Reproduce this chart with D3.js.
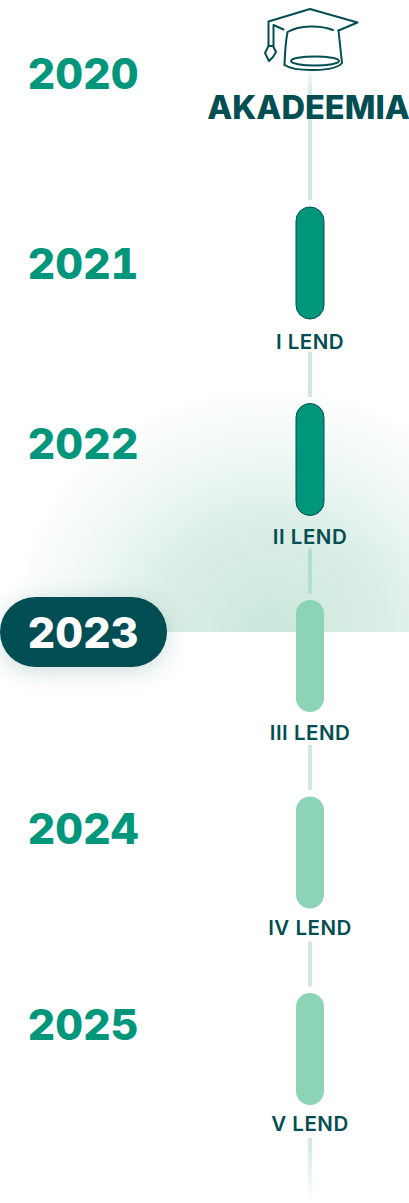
<!DOCTYPE html>
<html>
<head>
<meta charset="utf-8">
<script src="https://cdnjs.cloudflare.com/ajax/libs/d3/7.8.5/d3.min.js"></script>
<style>
  html, body { margin: 0; padding: 0; background: #fff; }
  svg { display: block; }
  .year { font-family: "Inter"; font-weight: 800; font-size: 43px; fill: #00967c; text-anchor: middle; font-feature-settings: "tnum"; }
  .lend { font-family: "Inter"; font-weight: 600; font-size: 20.5px; letter-spacing: 0.5px; fill: #034e52; text-anchor: middle; }
  .title { font-family: "Inter"; font-weight: 800; font-size: 32.6px; fill: #034e52; text-anchor: middle; }
</style>
</head>
<body>
<div class="chart"></div>
<script>
var svgWidth = 409;
var svgHeight = 1203;

// Timeline data
var years = ["2020", "2021", "2022", "2023", "2024", "2025"];
var yearRows = [-2.85, -1.88, -0.96, 0, 1, 2];
var currentYear = "2023";
var stages = ["I LEND", "II LEND", "III LEND", "IV LEND", "V LEND"];
var stageRows = [-2, -1, 0, 1, 2];
var stageDone = [true, true, false, false, false];
var connectorRows = [-2, -1, 0, 1, 2, 3];

var svg = d3.select(".chart")
  .append("svg")
  .attr("width", svgWidth)
  .attr("height", svgHeight);

var rowScale = d3.scaleLinear().domain([0, 1]).range([632, 828]);
var stageTop = d3.scaleLinear().domain([0, 1]).range([600, 796.5]);
var labelY = d3.scaleLinear().domain([0, 1]).range([739.5, 935]);
var axisX = 310;

var defs = svg.append("defs");

var glow = defs.append("radialGradient")
  .attr("id", "glow")
  .attr("gradientUnits", "userSpaceOnUse")
  .attr("cx", 0).attr("cy", 0).attr("r", 1)
  .attr("gradientTransform", `translate(270, ${rowScale(0)}) scale(265, 250)`);
glow.append("stop").attr("offset", 0).attr("stop-color", "#c9e7da");
glow.append("stop").attr("offset", 0.45).attr("stop-color", "#dcefe7");
glow.append("stop").attr("offset", 0.75).attr("stop-color", "#f1f9f6");
glow.append("stop").attr("offset", 1).attr("stop-color", "#ffffff");

var lineTop = defs.append("linearGradient")
  .attr("id", "lineTop").attr("x1", 0).attr("x2", 0).attr("y1", 0).attr("y2", 1);
lineTop.append("stop").attr("offset", 0).attr("stop-color", "#cfe8e4").attr("stop-opacity", 0.2);
lineTop.append("stop").attr("offset", 0.2).attr("stop-color", "#cfe8e4");

var lineEnd = defs.append("linearGradient")
  .attr("id", "lineEnd").attr("x1", 0).attr("x2", 0).attr("y1", 0).attr("y2", 1);
lineEnd.append("stop").attr("offset", 0).attr("stop-color", "#cfe8e4");
lineEnd.append("stop").attr("offset", 1).attr("stop-color", "#cfe8e4").attr("stop-opacity", 0);

var shadow = defs.append("filter")
  .attr("id", "shadow")
  .attr("x", "-30%").attr("y", "-50%").attr("width", "160%").attr("height", "220%");
shadow.append("feDropShadow")
  .attr("dx", 0).attr("dy", 4).attr("stdDeviation", 11)
  .attr("flood-color", "#034e52").attr("flood-opacity", 0.2);

// background glow, cut off at the current year
var clip = defs.append("clipPath").attr("id", "aboveNow");
clip.append("rect").attr("x", 0).attr("y", 0).attr("width", svgWidth).attr("height", rowScale(0));

svg.append("rect")
  .attr("width", svgWidth).attr("height", rowScale(0))
  .attr("clip-path", "url(#aboveNow)")
  .attr("fill", "url(#glow)");

// connectors
svg.selectAll(".connector")
  .data(connectorRows)
  .enter()
  .append("rect")
  .attr("class", "connector")
  .attr("x", axisX - 2)
  .attr("width", 4)
  .attr("y", d => d === -2 ? 72 : stageTop(d - 1) + 145)
  .attr("height", d => d === -2 ? 128 : (d === 3 ? 66 : 45))
  .attr("fill", d => d === -2 ? "url(#lineTop)" : (d === 3 ? "url(#lineEnd)" : (d === 0 ? "#b2dfd2" : "#cfe8e4")));

// stage pills
svg.selectAll(".stage")
  .data(stages)
  .enter()
  .append("rect")
  .attr("class", "stage")
  .attr("x", axisX - 14)
  .attr("y", (d, i) => stageTop(stageRows[i]))
  .attr("width", 28)
  .attr("height", 112)
  .attr("rx", 14)
  .attr("fill", (d, i) => stageDone[i] ? "#00967c" : "#8dd3b5")
  .attr("stroke", (d, i) => stageDone[i] ? "#034e52" : "none")
  .attr("stroke-width", 1);

svg.selectAll(".lend")
  .data(stages)
  .enter()
  .append("text")
  .attr("class", "lend")
  .attr("x", axisX)
  .attr("y", (d, i) => labelY(stageRows[i]))
  .text(d => d);

// current year pill
svg.append("rect")
  .attr("x", 0)
  .attr("y", rowScale(0) - 35)
  .attr("width", 167)
  .attr("height", 70)
  .attr("rx", 35)
  .attr("fill", "#034e52")
  .attr("filter", "url(#shadow)");

svg.selectAll(".year")
  .data(years)
  .enter()
  .append("text")
  .attr("class", "year")
  .attr("x", 83)
  .attr("y", (d, i) => rowScale(yearRows[i]) + 15.5)
  .style("fill", d => d === currentYear ? "#ffffff" : null)
  .text(d => d);

// graduation cap
var cap = svg.append("g")
  .attr("fill", "none")
  .attr("stroke", "#034e52")
  .attr("stroke-width", 2)
  .attr("stroke-linejoin", "round")
  .attr("stroke-linecap", "round");
cap.append("path").attr("d", "M338.5 30.5L357.5 22.5L310 9L268.5 21.5V46");
cap.append("path").attr("d", "M283.5 29.5L273.5 25V46");
cap.append("path").attr("d", "M268.5 46L265 53L269 61L273 57L276 52L273 46Z");
cap.append("path").attr("d", "M284.5 65C285 50 286 40 287.5 32C300 25 320 25 333 30");
cap.append("path").attr("d", "M338.5 30.5L342 63C335 72 295 72 284.5 65");
cap.append("ellipse").attr("cx", 315).attr("cy", 61).attr("rx", 24).attr("ry", 4.5);

svg.append("text")
  .attr("class", "title")
  .attr("x", 308.5)
  .attr("y", 119)
  .text("AKADEEMIA");
</script>
</body>
</html>
